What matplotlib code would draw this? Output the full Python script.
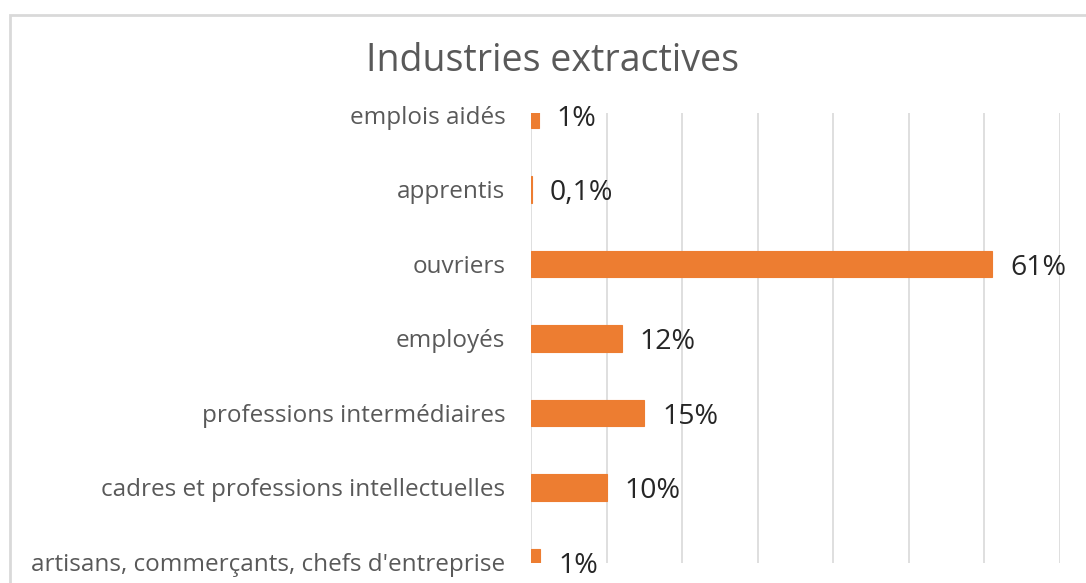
import matplotlib.pyplot as plt
from matplotlib.patches import Rectangle

categories = ['emplois aidés', 'apprentis', 'ouvriers', 'employés',
              'professions intermédiaires', 'cadres et professions intellectuelles',
              "artisans, commerçants, chefs d'entreprise"]
values = [1.0, 0.1, 61, 12, 15, 10, 1.2]
value_labels = ['1%', '0,1%', '61%', '12%', '15%', '10%', '1%']

plt.rcParams['font.family'] = ['Open Sans', 'DejaVu Sans']

fig = plt.figure(figsize=(10.86, 5.83), dpi=100)
ax = fig.add_axes([531/1086, 1 - 563/583, (1060 - 531)/1086, 450/583])

pos = list(range(len(categories)))
ax.barh(pos, values, height=0.35, color='#ED7D31', edgecolor='#ED7D31',
        linewidth=0.8, zorder=3)
ax.set_xlim(0, 70)
ax.set_ylim(6 + 1/74.5, -2/74.5)
ax.set_xticks(range(0, 71, 10))
ax.set_xticklabels([])
ax.set_yticks(pos)
ax.set_yticklabels(categories, fontsize=17.5, color='#595959')
ax.tick_params(axis='both', length=0, pad=18.5)
ax.grid(axis='x', color='#D9D9D9', linewidth=1.2, zorder=0)
for s in ax.spines.values():
    s.set_visible(False)

for p, v, lab in zip(pos, values, value_labels):
    ax.text(v + 2.4, p + 0.05, lab, va='center', ha='left', fontsize=20.5,
            color='#262626', clip_on=False, zorder=4)

fig.text(552/1086, 1 - 61/583, 'Industries extractives', ha='center', va='center',
         fontsize=27, color='#595959')

fig.patches.append(Rectangle((10/1086, -0.05), 1.2, 1 - 15/583 + 0.05,
                             transform=fig.transFigure, fill=False,
                             edgecolor='#D9D9D9', linewidth=2))

fig.savefig('out.png', dpi=100)
